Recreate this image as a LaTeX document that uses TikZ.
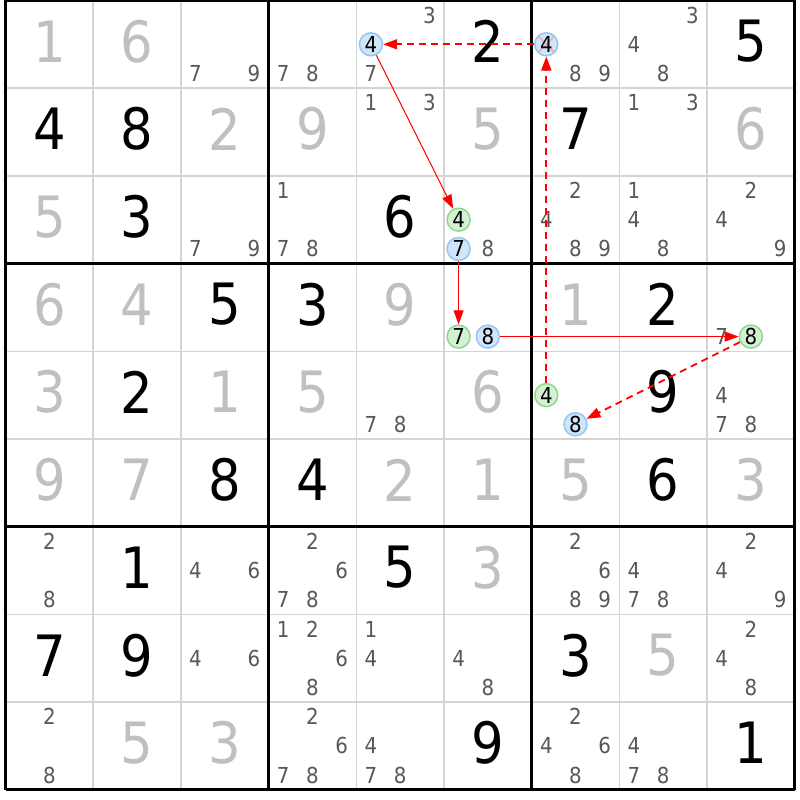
\documentclass[tikz,border=0pt]{standalone}
\usepackage{fontspec}
\setmainfont{DejaVu Sans Condensed}
\usetikzlibrary{arrows.meta}

\definecolor{solvedgray}{HTML}{C0C0C0}
\definecolor{candgray}{HTML}{585858}
\definecolor{gridgray}{HTML}{D4D4D4}
\definecolor{markblue}{HTML}{CFE5FA}
\definecolor{markblueline}{HTML}{94C6F2}
\definecolor{markgreen}{HTML}{D5F1D5}
\definecolor{markgreenline}{HTML}{8CD98C}

\newcommand\given[3]{\node[given] (g#1#2) at ({5.5+87.7*(#2-0.5)},{0.5+87.7*(#1-0.5)-3}) {#3};}
\newcommand\solved[3]{\node[solved] (s#1#2) at ({5.5+87.7*(#2-0.5)},{0.5+87.7*(#1-0.5)-3}) {#3};}
\newcommand\cand[4][cand]{\node[#1] (c#2#3#4) at ({5.5+87.7*(#3-1)+14.6+29.2*mod(#4-1,3)},{0.5+87.7*(#2-1)+14.6+29.2*floor((#4-1)/3)}) {#4};}
\newcommand\cands[3]{\foreach \n in {#3} {\cand{#1}{#2}{\n}}}

\begin{document}
\begin{tikzpicture}[x=1pt,y=-1pt,
  given/.style={inner sep=0pt,font=\fontsize{57}{57}\selectfont},
  solved/.style={given,solvedgray},
  cand/.style={inner sep=0pt,candgray,font=\fontsize{22}{22}\selectfont},
  bluemark/.style={cand,black,circle,minimum size=23pt,fill=markblue,draw=markblueline,line width=1.5pt},
  greenmark/.style={bluemark,fill=markgreen,draw=markgreenline},
  crossed/.style={path picture={\draw[red!35,line width=1.5pt] (path picture bounding box.south west) -- (path picture bounding box.north east) (path picture bounding box.north west) -- (path picture bounding box.south east);}},
  strong/.style={red,line width=1pt,-{Triangle[length=14pt,width=10pt]}},
  weak/.style={strong,line width=1.8pt,dash pattern=on 7pt off 5pt}]
\useasboundingbox (0,0) rectangle (800,800);
\fill[white] (0,0) rectangle (800,800);

\foreach \i in {1,2,4,5,7,8} {
  \draw[gridgray,line width=1.5pt] ({5.5+87.7*\i},0.5) -- ({5.5+87.7*\i},789.8);
  \draw[gridgray,line width=1.5pt] (5.5,{0.5+87.7*\i}) -- (794.8,{0.5+87.7*\i});
}
\foreach \i in {0,3,6,9} {
  \draw[line width=3pt] ({5.5+87.7*\i},0.5) -- ({5.5+87.7*\i},789.8);
  \draw[line width=3pt] (5.5,{0.5+87.7*\i}) -- (794.8,{0.5+87.7*\i});
}

\solved{1}{1}{1} \solved{1}{2}{6} \cands{1}{3}{7,9} \cands{1}{4}{7,8}
\cands{1}{5}{3,7} \cand[bluemark]{1}{5}{4} \given{1}{6}{2}
\cands{1}{7}{8,9} \cand[bluemark,crossed]{1}{7}{4} \cands{1}{8}{3,4,8} \given{1}{9}{5}

\given{2}{1}{4} \given{2}{2}{8} \solved{2}{3}{2} \solved{2}{4}{9} \cands{2}{5}{1,3}
\solved{2}{6}{5} \given{2}{7}{7} \cands{2}{8}{1,3} \solved{2}{9}{6}

\solved{3}{1}{5} \given{3}{2}{3} \cands{3}{3}{7,9} \cands{3}{4}{1,7,8} \given{3}{5}{6}
\cands{3}{6}{8} \cand[greenmark]{3}{6}{4} \cand[bluemark]{3}{6}{7}
\cands{3}{7}{2,4,8,9} \cands{3}{8}{1,4,8} \cands{3}{9}{2,4,9}

\solved{4}{1}{6} \solved{4}{2}{4} \given{4}{3}{5} \given{4}{4}{3} \solved{4}{5}{9}
\cand[greenmark]{4}{6}{7} \cand[bluemark]{4}{6}{8} \solved{4}{7}{1} \given{4}{8}{2}
\cands{4}{9}{7} \cand[greenmark]{4}{9}{8}

\solved{5}{1}{3} \given{5}{2}{2} \solved{5}{3}{1} \solved{5}{4}{5} \cands{5}{5}{7,8}
\solved{5}{6}{6} \cand[greenmark]{5}{7}{4} \cand[bluemark]{5}{7}{8} \given{5}{8}{9}
\cands{5}{9}{4,7,8}

\solved{6}{1}{9} \solved{6}{2}{7} \given{6}{3}{8} \given{6}{4}{4} \solved{6}{5}{2}
\solved{6}{6}{1} \solved{6}{7}{5} \given{6}{8}{6} \solved{6}{9}{3}

\cands{7}{1}{2,8} \given{7}{2}{1} \cands{7}{3}{4,6} \cands{7}{4}{2,6,7,8} \given{7}{5}{5}
\solved{7}{6}{3} \cands{7}{7}{2,6,8,9} \cands{7}{8}{4,7,8} \cands{7}{9}{2,4,9}

\given{8}{1}{7} \given{8}{2}{9} \cands{8}{3}{4,6} \cands{8}{4}{1,2,6,8} \cands{8}{5}{1,4}
\cands{8}{6}{4,8} \given{8}{7}{3} \solved{8}{8}{5} \cands{8}{9}{2,4,8}

\cands{9}{1}{2,8} \solved{9}{2}{5} \solved{9}{3}{3} \cands{9}{4}{2,6,7,8} \cands{9}{5}{4,7,8}
\given{9}{6}{9} \cands{9}{7}{2,4,6,8} \cands{9}{8}{4,7,8} \given{9}{9}{1}

\draw[weak] (c574) -- (c174);
\draw[weak] (c174) -- (c154);
\draw[strong] (c154) -- (c364);
\draw[strong] (c367) -- (c467);
\draw[strong] (c468) -- (c498);
\draw[weak] (c498) -- (c578);

\end{tikzpicture}
\end{document}
